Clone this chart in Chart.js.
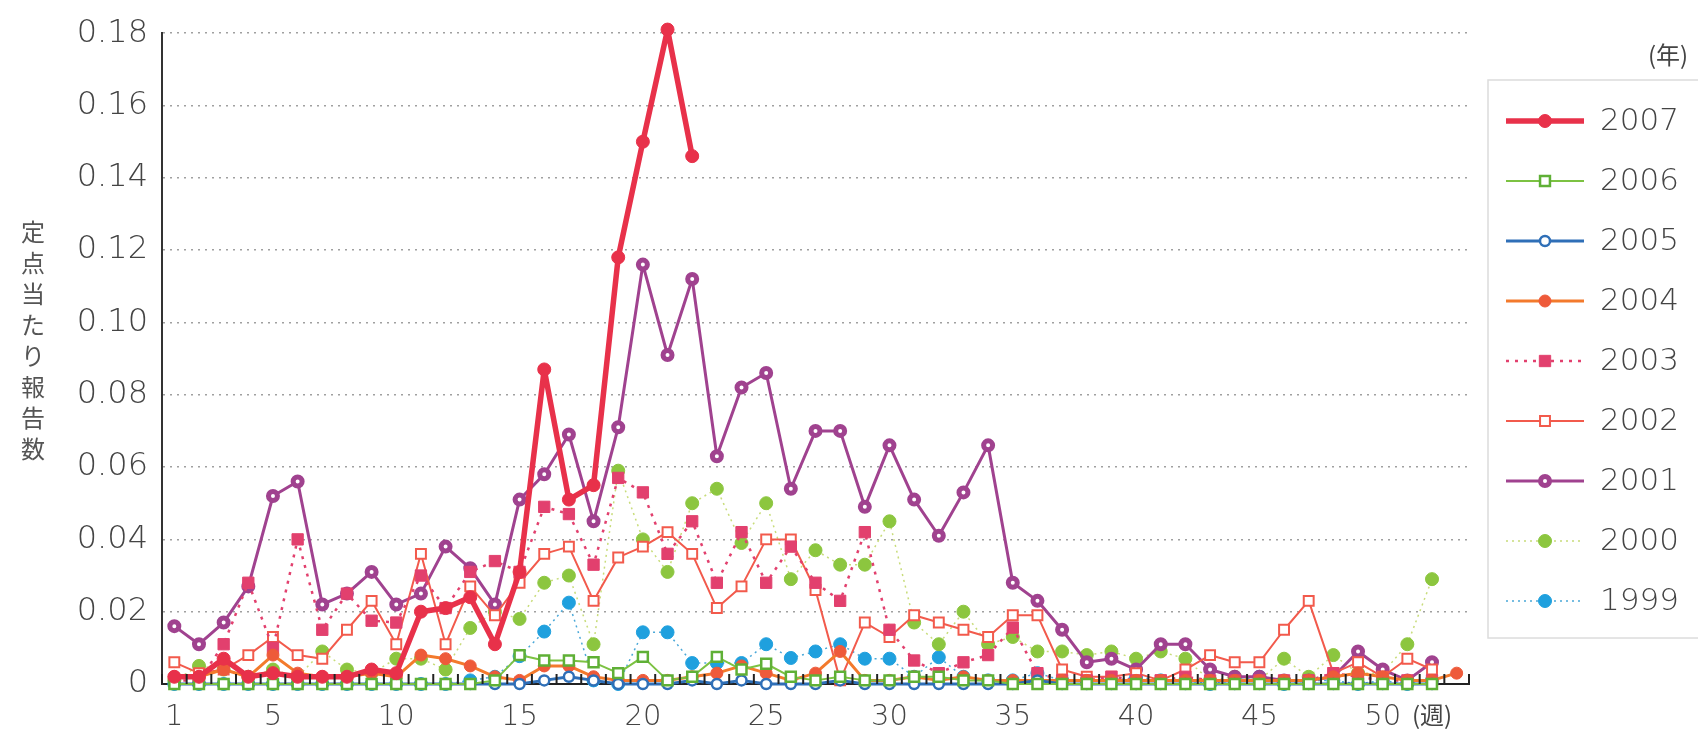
<!DOCTYPE html>
<html>
<head>
<meta charset="utf-8">
<script src="https://cdn.jsdelivr.net/npm/chart.js@4.4.0/dist/chart.umd.min.js"></script>
<style>
  html, body { margin: 0; padding: 0; background: #fff; }
  canvas { display: block; }
</style>
</head>
<body>
<canvas id="fluChart" width="1698" height="742"></canvas>
<script>
// weeks (週)
var weeks = [1,2,3,4,5,6,7,8,9,10,11,12,13,14,15,16,17,18,19,20,21,22,23,24,25,26,
             27,28,29,30,31,32,33,34,35,36,37,38,39,40,41,42,43,44,45,46,47,48,49,50,51,52,53];
var weekLabels = [1,5,10,15,20,25,30,35,40,45,50];
var yTicks = [0,0.02,0.04,0.06,0.08,0.10,0.12,0.14,0.16,0.18];

// 定点当たり報告数 per year
var y2007 = [0.002,0.002,0.007,0.002,0.003,0.002,0.002,0.002,0.004,0.003,0.020,0.021,0.024,0.011,0.031,0.087,0.051,0.055,0.118,0.150,0.181,0.146];
var y2006 = [0,0,0,0,0,0,0,0,0,0,0,0,0,0.001,0.008,0.0065,0.0065,0.006,0.003,0.0075,0.001,0.002,0.0075,0.004,0.0056,0.002,
             0.001,0.002,0.001,0.001,0.002,0.002,0.001,0.001,0,0,0,0,0,0,0,0,0,0,0,0,0,0,0,0,0,0];
var y2005 = [0,0,0,0,0,0,0,0,0,0,0,0,0,0,0,0.001,0.002,0.001,0,0,0,0.001,0,0.001,0,0,
             0,0.001,0,0,0,0,0,0,0,0.001,0,0,0,0,0,0,0,0,0,0,0,0,0,0,0,0];
var y2004 = [0.002,0.002,0.004,0.002,0.008,0.003,0.002,0.002,0.003,0.002,0.008,0.007,0.005,0.002,0.001,0.005,0.005,0.002,0.001,0.001,0.001,0.002,0.003,0.005,0.003,0.001,
             0.003,0.009,0.001,0.001,0.002,0.001,0.002,0.001,0.001,0.001,0.001,0.001,0.001,0.001,0.001,0.001,0.001,0.001,0.001,0.001,0.001,0.002,0.003,0.002,0.001,0.001,0.003];
var y2003 = [0.001,0.001,0.011,0.028,0.010,0.040,0.015,0.025,0.0175,0.017,0.030,0.021,0.031,0.034,0.031,0.049,0.047,0.033,0.057,0.053,0.036,0.045,0.028,0.042,0.028,0.038,
             0.028,0.023,0.042,0.015,0.0065,0.003,0.006,0.008,0.0156,0.003,0.001,0.001,0.002,0.001,0.001,0.002,0.001,0.001,0.001,0.001,0.001,0.003,0.002,0.001,0.001,0.001];
var y2002 = [0.006,0.003,0.004,0.008,0.013,0.008,0.007,0.015,0.023,0.011,0.036,0.011,0.027,0.019,0.028,0.036,0.038,0.023,0.035,0.038,0.042,0.036,0.021,0.027,0.040,0.040,
             0.026,0.001,0.017,0.013,0.019,0.017,0.015,0.013,0.019,0.019,0.004,0.002,0.002,0.003,0.001,0.004,0.008,0.006,0.006,0.015,0.023,0.003,0.006,0.002,0.007,0.004];
var y2001 = [0.016,0.011,0.017,0.027,0.052,0.056,0.022,0.025,0.031,0.022,0.025,0.038,0.032,0.022,0.051,0.058,0.069,0.045,0.071,0.116,0.091,0.112,0.063,0.082,0.086,0.054,
             0.070,0.070,0.049,0.066,0.051,0.041,0.053,0.066,0.028,0.023,0.015,0.006,0.007,0.004,0.011,0.011,0.004,0.002,0.002,0.001,0.001,0.002,0.009,0.004,0.001,0.006];
var y2000 = [0.001,0.005,0.004,0.002,0.004,0.002,0.009,0.004,0.003,0.007,0.007,0.004,0.0155,0.020,0.018,0.028,0.030,0.011,0.059,0.040,0.031,0.050,0.054,0.039,0.050,0.029,
             0.037,0.033,0.033,0.045,0.017,0.011,0.020,0.011,0.013,0.009,0.009,0.008,0.009,0.007,0.009,0.007,0.001,0.002,0.001,0.007,0.002,0.008,0.003,0.003,0.011,0.029];
var y1999 = [0,0,0,0,0,0,0,0,0,0,0,0,0.001,0.002,0.0077,0.0145,0.0225,0.001,0,0.0143,0.0143,0.0058,0.0058,0.0058,0.011,0.0072,
             0.009,0.011,0.007,0.007,0.002,0.0074,0.002,0.001,0.001,0.003,0.001,0.001,0.001,0.002,0.001,0.001,0,0.001,0.002,0,0.001,0.001,0,0.001,0,0.001];

var yAxisTitle = '定点当たり報告数';

var datasets = [
  { label: '2007', data: y2007, borderColor: '#e8314a', borderWidth: 5.5,
    pointStyle: 'circle', pointRadius: 6.5, pointBorderWidth: 1, pointBackgroundColor: '#e8314a', pointBorderColor: '#e8314a' },
  { label: '2006', data: y2006, borderColor: '#7cc242', borderWidth: 2,
    pointStyle: 'rect', pointRadius: 7, pointBorderWidth: 2.5, pointBackgroundColor: '#ffffff', pointBorderColor: '#5fb036' },
  { label: '2005', data: y2005, borderColor: '#2f6fb7', borderWidth: 3,
    pointStyle: 'circle', pointRadius: 5, pointBorderWidth: 2.5, pointBackgroundColor: '#ffffff', pointBorderColor: '#2f6fb7' },
  { label: '2004', data: y2004, borderColor: '#f37a2c', borderWidth: 3,
    pointStyle: 'circle', pointRadius: 6, pointBorderWidth: 1, pointBackgroundColor: '#ee5a3a', pointBorderColor: '#ee5a3a' },
  { label: '2003', data: y2003, borderColor: '#e2406e', borderWidth: 2.5, borderDash: [3, 6],
    pointStyle: 'rect', pointRadius: 8, pointBorderWidth: 1, pointBackgroundColor: '#e2406e', pointBorderColor: '#e2406e' },
  { label: '2002', data: y2002, borderColor: '#f25a4c', borderWidth: 2,
    pointStyle: 'rect', pointRadius: 7, pointBorderWidth: 2, pointBackgroundColor: '#ffffff', pointBorderColor: '#f25a4c' },
  { label: '2001', data: y2001, borderColor: '#a0428f', borderWidth: 3,
    pointStyle: 'circle', pointRadius: 4.5, pointBorderWidth: 5, pointBackgroundColor: '#ffffff', pointBorderColor: '#a0428f' },
  { label: '2000', data: y2000, borderColor: '#c8dc7a', borderWidth: 1.5, borderDash: [2, 4],
    pointStyle: 'circle', pointRadius: 6.5, pointBorderWidth: 1, pointBackgroundColor: '#8cc63f', pointBorderColor: '#8cc63f' },
  { label: '1999', data: y1999, borderColor: '#4aa8d8', borderWidth: 1.5, borderDash: [2, 4],
    pointStyle: 'circle', pointRadius: 6.5, pointBorderWidth: 1, pointBackgroundColor: '#1fa0de', pointBorderColor: '#1fa0de' }
];
datasets.forEach(function(d){
  d.fill = false; d.tension = 0; d.clip = false;
  d.borderJoinStyle = 'round'; d.backgroundColor = d.pointBackgroundColor;
  d.pointHoverRadius = d.pointRadius;
});

// vertical y title, one character under another
var yTitlePlugin = {
  id: 'yTitle',
  afterDraw: function(chart) {
    var ctx = chart.ctx;
    ctx.save();
    ctx.fillStyle = '#555';
    ctx.font = '24px "Noto Sans CJK JP"';
    ctx.textAlign = 'center';
    ctx.textBaseline = 'middle';
    var chars = Array.from(yAxisTitle);
    for (var i = 0; i < chars.length; i++) {
      ctx.fillText(chars[i], 33, 232 + i * 31);
    }
    ctx.restore();
  }
};

// small upward ticks on the x axis between weeks
var xTickPlugin = {
  id: 'xTicks',
  afterDatasetsDraw: function(chart) {
    var ctx = chart.ctx, xs = chart.scales.x, area = chart.chartArea;
    var step = xs.getPixelForValue(1) - xs.getPixelForValue(0);
    ctx.save();
    ctx.strokeStyle = '#222';
    ctx.lineWidth = 2;
    for (var i = 0; i <= weeks.length; i++) {
      var x = xs.getPixelForValue(0) - step / 2 + i * step;
      ctx.beginPath();
      ctx.moveTo(x, area.bottom);
      ctx.lineTo(x, area.bottom - 10);
      ctx.stroke();
    }
    ctx.restore();
  }
};

// legend box on the right with line + marker samples
var legendPlugin = {
  id: 'sideLegend',
  afterDraw: function(chart) {
    var ctx = chart.ctx;
    ctx.save();
    ctx.strokeStyle = '#dcdcdc';
    ctx.lineWidth = 1.5;
    ctx.strokeRect(1488, 80, 230, 558);
    ctx.fillStyle = '#444';
    ctx.font = '24px "Noto Sans CJK JP"';
    ctx.textAlign = 'center';
    ctx.textBaseline = 'middle';
    ctx.fillText('(年)', 1668, 55);

    chart.data.datasets.forEach(function(ds, i) {
      var y = 121 + i * 60;
      ctx.save();
      ctx.strokeStyle = ds.borderColor;
      ctx.lineWidth = ds.borderWidth;
      ctx.setLineDash(ds.borderDash || []);
      ctx.beginPath();
      ctx.moveTo(1506, y);
      ctx.lineTo(1584, y);
      ctx.stroke();
      ctx.setLineDash([]);
      ctx.fillStyle = ds.pointBackgroundColor;
      ctx.strokeStyle = ds.pointBorderColor;
      ctx.lineWidth = ds.pointBorderWidth;
      Chart.helpers.drawPoint(ctx, { pointStyle: ds.pointStyle, radius: ds.pointRadius, borderWidth: ds.pointBorderWidth, rotation: 0 }, 1545, y);
      ctx.restore();
      ctx.fillStyle = '#444';
      ctx.font = '200 31px "DejaVu Sans"';
      ctx.textAlign = 'left';
      ctx.fillText(ds.label, 1600, y + 1);
    });
    ctx.restore();
  }
};

var canvas = document.getElementById('fluChart');
var fluChart = new Chart(canvas, {
  type: 'line',
  data: { labels: weeks, datasets: datasets },
  options: {
    responsive: false,
    animation: false,
    layout: { padding: { top: 22, right: 229, bottom: 0, left: 0 } },
    plugins: { legend: { display: false }, tooltip: { enabled: false } },
    scales: {
      x: {
        type: 'category',
        offset: true,
        grid: { display: false },
        border: { display: true, color: '#222', width: 2 },
        ticks: {
          autoSkip: false, maxRotation: 0, padding: 8,
          color: '#444',
          font: function(c) {
            var w = weeks[c.index];
            return w === 52 ? { family: 'Noto Sans CJK JP', size: 24 } : { family: 'DejaVu Sans', size: 29, weight: '200' };
          },
          callback: function(val, idx) {
            var w = weeks[idx];
            if (weekLabels.indexOf(w) >= 0) return String(w);
            if (w === 52) return '(週)';
            return '';
          }
        },
        afterFit: function(scale) { scale.height = 58; }
      },
      y: {
        min: 0, max: 0.18,
        afterBuildTicks: function(scale) { scale.ticks = yTicks.map(function(v){ return { value: v }; }); },
        grid: { color: '#a0a0a0', lineWidth: 1.5, drawTicks: false },
        border: { display: true, color: '#333', width: 2, dash: [2, 5] },
        ticks: {
          padding: 14, color: '#444', font: { family: 'DejaVu Sans', size: 32, weight: '200' },
          callback: function(v) { return v === 0 ? '0' : v.toFixed(2); }
        },
        afterFit: function(scale) { scale.width = 162; }
      }
    }
  },
  plugins: [yTitlePlugin, xTickPlugin, legendPlugin]
});
</script>
</body>
</html>
